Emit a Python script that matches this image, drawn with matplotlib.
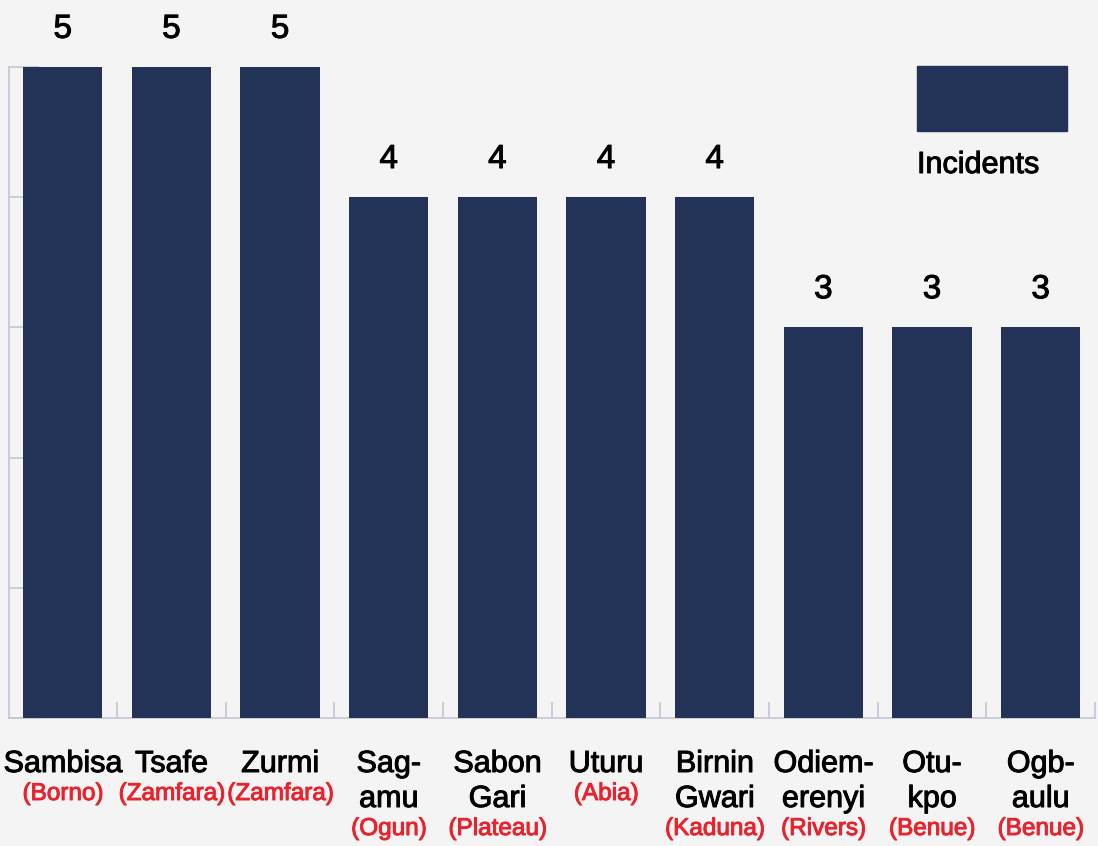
import matplotlib.pyplot as plt
import matplotlib.patheffects as pe
from matplotlib.patches import Rectangle

# data
places = ["Sambisa", "Tsafe", "Zurmi", "Sag-\namu", "Sabon\nGari", "Uturu",
          "Birnin\nGwari", "Odiem-\nerenyi", "Otu-\nkpo", "Ogb-\naulu"]
states = ["(Borno)", "(Zamfara)", "(Zamfara)", "(Ogun)", "(Plateau)", "(Abia)",
          "(Kaduna)", "(Rivers)", "(Benue)", "(Benue)"]
incidents = [5, 5, 5, 4, 4, 4, 4, 3, 3, 3]

BG = "#f4f4f4"
BAR = "#233358"
RED = "#e8232d"
AXC = "#c3c6d6"
W, H = 1098, 846

plt.rcParams["font.family"] = ["Liberation Sans", "DejaVu Sans"]


def heavy(color):
    # thicken regular glyphs a little, the reference uses a medium weight
    return [pe.withStroke(linewidth=0.7, foreground=color)]


fig = plt.figure(figsize=(W / 100, H / 100), dpi=100, facecolor=BG)
left, right, top, bottom = 8.5, 1095, 67, 718
ax = fig.add_axes([left / W, (H - bottom) / H, (right - left) / W, (bottom - top) / H])
ax.set_facecolor(BG)

x = list(range(len(places)))
ax.bar(x, incidents, width=0.73, color=BAR, zorder=3)
ax.set_xlim(-0.5, len(places) - 0.5)
ax.set_ylim(0, 5)

for s in ["top", "right"]:
    ax.spines[s].set_visible(False)
for s in ["left", "bottom"]:
    ax.spines[s].set_color(AXC)
    ax.spines[s].set_linewidth(1.2)

ax.set_yticks(range(0, 6))
ax.set_xticks([i + 0.5 for i in x])
ax.tick_params(axis="y", direction="in", length=21.6, color=AXC, width=1.2, labelleft=False)
ax.tick_params(axis="x", direction="in", length=11.5, color=AXC, width=1.2, labelbottom=False)

# value labels
for xi, v in zip(x, incidents):
    ax.annotate(str(v), (xi, v), xytext=(0, 21), textcoords="offset points",
                ha="center", va="baseline", fontsize=24, color="black",
                path_effects=heavy("black"))

# category labels, drawn line by line
axh = bottom - top
tr = ax.get_xaxis_transform()
for xi, name, st in zip(x, places, states):
    lines = name.split("\n")
    base = 54
    for ln in lines:
        ax.text(xi, -base / axh, ln, transform=tr, ha="center", va="baseline",
                fontsize=22, color="black", path_effects=heavy("black"))
        base += 35
    base -= 35
    ax.text(xi, -(base + 28) / axh, st, transform=tr, ha="center", va="baseline",
            fontsize=17.5, color=RED, path_effects=heavy(RED))

# legend
fig.patches.append(Rectangle((917 / W, (H - 131) / H), 150 / W, 65 / H,
                             transform=fig.transFigure, color=BAR))
fig.text(917 / W, (H - 173) / H, "Incidents", ha="left", va="baseline", fontsize=22,
         path_effects=heavy("black"))

fig.savefig("out.png", dpi=100, facecolor=BG)
